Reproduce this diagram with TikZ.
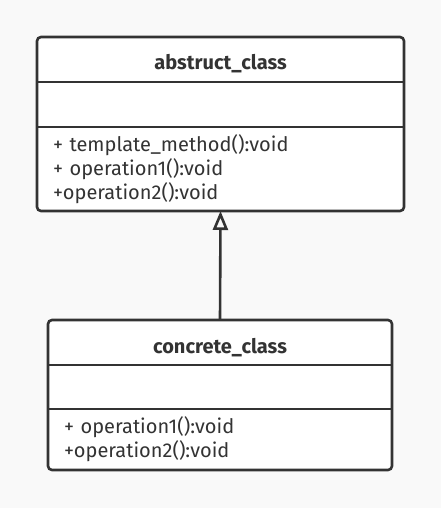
\documentclass[tikz,border=0pt]{standalone}
\usepackage{fontspec}
\setmainfont{Fira Sans}
\usepackage{tikz}
\usetikzlibrary{arrows.meta, positioning, backgrounds}
\definecolor{umlline}{HTML}{333333}
\definecolor{umlbg}{HTML}{F9F9F9}

\begin{document}
\begin{tikzpicture}[x=1bp, y=-1bp]
\tikzset{
  classpart/.style={
    inner sep=0pt, outer sep=0pt,
    minimum width=#1,
    text=umlline,
    font=\fontsize{20bp}{24bp}\selectfont
  },
  classtitle/.style={classpart=#1, minimum height=45bp, text height=21bp, text depth=0pt,
    font=\fontsize{20bp}{24bp}\selectfont\bfseries},
  classops/.style={classpart=#1, align=left, text width=#1-32bp, inner xsep=16bp},
  classbox/.style={draw=umlline, line width=2.6bp, rounded corners=4bp, fill=white},
  classrule/.style={draw=umlline, line width=2.6bp},
  inherit/.style={draw=umlline, line width=2.6bp, -{Triangle[open, length=19bp, width=15bp, line join=miter]}}
}

% abstruct_class
\node[classtitle=367bp, anchor=north west] (abstitle) at (37,37) {abstruct\_class};
\node[classpart=367bp, minimum height=45bp, below=0pt of abstitle] (absattr) {};
\node[classops=367bp, minimum height=84bp, below=0pt of absattr] (absops) {+ template\_method():void\\+ operation1():void\\+operation2():void};

% concrete_class
\node[classtitle=344bp, anchor=north west] (contitle) at (48,320) {concrete\_class};
\node[classpart=344bp, minimum height=44bp, below=0pt of contitle] (conattr) {};
\node[classops=344bp, minimum height=61bp, below=0pt of conattr] (conops) {+ operation1():void\\+operation2():void};

\begin{scope}[on background layer]
  \fill[umlbg] (0,0) rectangle (441,508);
  \draw[classbox] (abstitle.north west) rectangle (absops.south east);
  \draw[classbox] (contitle.north west) rectangle (conops.south east);
\end{scope}

\draw[classrule] (abstitle.south west) -- (abstitle.south east);
\draw[classrule] (absattr.south west) -- (absattr.south east);
\draw[classrule] (contitle.south west) -- (contitle.south east);
\draw[classrule] (conattr.south west) -- (conattr.south east);

\draw[inherit] (contitle.north) -- (absops.south);
\end{tikzpicture}
\end{document}
